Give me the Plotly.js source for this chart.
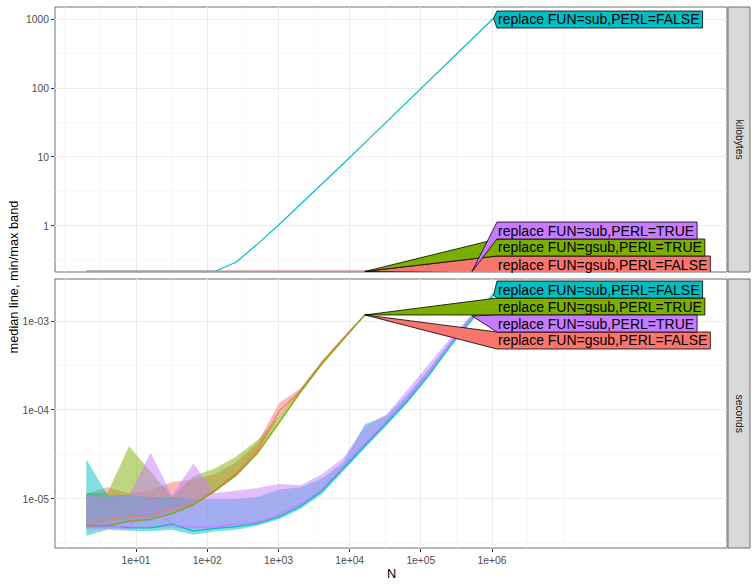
<!DOCTYPE html>
<html><head><meta charset="utf-8">
<script src="https://cdn.plot.ly/plotly-3.0.1.min.js"></script>
<style>html,body{margin:0;padding:0;background:#fff}</style>
</head><body><div id="chart" style="width:756px;height:588px"></div>
<script>
// ---------------- data ----------------
const N = [2,4,8,16,32,64,128,256,512,1024,2048,4096,8192,16384,32768,65536,131072,262144,524288,1048576];
const seriesNames = ["replace FUN=gsub,PERL=FALSE","replace FUN=gsub,PERL=TRUE","replace FUN=sub,PERL=FALSE","replace FUN=sub,PERL=TRUE"];
const seriesColors = ["#F8766D","#7CAE00","#00BFC4","#C77CFF"];
const panelNames = ["kilobytes","seconds"];
const xTickVals = [1e1,1e2,1e3,1e4,1e5,1e6];
const xTickText = ["1e+01","1e+02","1e+03","1e+04","1e+05","1e+06"];
const kbTickVals = [1,10,100,1000];
const kbTickText = ["1","10","100","1000"];
const secTickVals = [1e-5,1e-4,1e-3];
const secTickText = ["1e-05","1e-04","1e-03"];

// kilobytes (median = min = max); 0 means no memory allocated
const kbGsubFalse = [0,0,0,0,0,0,0,0,0,0,0,0,0,0];
const kbGsubTrue  = [0,0,0,0,0,0,0,0,0,0,0,0,0,0];
const kbSubFalse  = [0,0,0,0,0,0,0,0.30,0.55,1.05,2.05,4.05,8.05,16.05,32.05,64.05,128.05,256.05,512.05,1024.05];
const kbSubTrue   = [0,0,0,0,0,0,0,0,0,0,0,0,0,0,0,0,0,0,0];

// seconds
const secMedGsubFalse = [5.3e-6,5.9e-6,6.3e-6,6.55e-6,7.85e-6,8.8e-6,1.26e-5,1.95e-5,3.6e-5,9.7e-5,1.65e-4,3.4e-4,6.4e-4,1.17e-3];
const secMinGsubFalse = [5.0e-6,5.6e-6,6.0e-6,6.3e-6,7.5e-6,8.5e-6,1.2e-5,1.85e-5,3.4e-5,8.5e-5,1.6e-4,3.3e-4,6.3e-4,1.15e-3];
const secMaxGsubFalse = [1.15e-5,1.35e-5,1.15e-5,1.25e-5,1.55e-5,1.65e-5,1.9e-5,2.6e-5,4.3e-5,1.2e-4,1.75e-4,3.6e-4,6.6e-4,1.2e-3];

const secMedGsubTrue = [5.0e-6,5.0e-6,5.66e-6,5.9e-6,6.9e-6,8.6e-6,1.24e-5,1.86e-5,3.3e-5,7.3e-5,1.6e-4,3.3e-4,6.3e-4,1.17e-3];
const secMinGsubTrue = [4.8e-6,4.8e-6,5.4e-6,5.7e-6,6.6e-6,8.3e-6,1.2e-5,1.8e-5,3.2e-5,7.0e-5,1.55e-4,3.2e-4,6.2e-4,1.15e-3];
const secMaxGsubTrue = [1.17e-5,1.18e-5,3.9e-5,2.0e-5,1.05e-5,1.8e-5,2.2e-5,3.0e-5,4.6e-5,8.5e-5,1.75e-4,3.5e-4,6.6e-4,1.2e-3];

const secMedSubFalse = [5.06e-6,5.0e-6,4.76e-6,4.73e-6,5.2e-6,4.36e-6,4.68e-6,4.89e-6,5.3e-6,6.3e-6,8.3e-6,1.22e-5,2.2e-5,3.94e-5,6.9e-5,1.27e-4,2.5e-4,5.3e-4,1.05e-3,1.95e-3];
const secMinSubFalse = [3.85e-6,4.5e-6,4.4e-6,4.35e-6,4.5e-6,3.95e-6,4.3e-6,4.5e-6,5.0e-6,5.9e-6,7.7e-6,1.14e-5,2.08e-5,3.75e-5,6.6e-5,1.21e-4,2.4e-4,5.1e-4,1.0e-3,1.88e-3];
const secMaxSubFalse = [2.8e-5,1.1e-5,1.1e-5,1.05e-5,1.05e-5,1.0e-5,1.0e-5,1.0e-5,1.05e-5,1.28e-5,1.35e-5,1.7e-5,2.6e-5,6.9e-5,8.6e-5,1.5e-4,2.9e-4,5.9e-4,1.15e-3,2.1e-3];

const secMedSubTrue = [4.8e-6,4.89e-6,4.9e-6,9.5e-6,5.1e-6,4.8e-6,4.89e-6,5.2e-6,5.5e-6,6.7e-6,8.8e-6,1.29e-5,2.35e-5,4.2e-5,7.4e-5,1.36e-4,2.7e-4,5.7e-4,1.14e-3];
const secMinSubTrue = [4.5e-6,4.6e-6,4.6e-6,4.7e-6,4.8e-6,4.5e-6,4.6e-6,4.9e-6,5.2e-6,6.3e-6,8.3e-6,1.22e-5,2.25e-5,4.0e-5,7.1e-5,1.3e-4,2.6e-4,5.5e-4,1.1e-3];
const secMaxSubTrue = [1.1e-5,1.05e-5,1.1e-5,3.3e-5,1.1e-5,2.5e-5,1.16e-5,1.25e-5,1.33e-5,1.47e-5,1.43e-5,1.9e-5,2.9e-5,6.5e-5,8.9e-5,1.7e-4,3.3e-4,6.5e-4,1.2e-3];

// ---------------- layout constants ----------------
const FONT = '"Liberation Sans", Arial, sans-serif';
const L = 55, W = 672, PT = 7, PB = 548, H = PB - PT;
const XR = [-0.138, 9.30];
const YR = [[-0.667, 3.174], [-5.551, -2.528]];
const PANEL_PX = [[7, 272], [279, 548]];
const LABEL_LEFT = 497, ROW_H = 17;
const EDGE_NUDGE = 0.008; // decades: keeps -Inf (zero) values visible at the panel edge
// label row tops (px) per panel, per series index
const LABEL_ROWS = [[256, 239, 11, 222], [332, 298, 281, 315]];

const kb = [kbGsubFalse, kbGsubTrue, kbSubFalse, kbSubTrue];
const sMed = [secMedGsubFalse, secMedGsubTrue, secMedSubFalse, secMedSubTrue];
const sMin = [secMinGsubFalse, secMinGsubTrue, secMinSubFalse, secMinSubTrue];
const sMax = [secMaxGsubFalse, secMaxGsubTrue, secMaxSubFalse, secMaxSubTrue];

function hexA(h, a){const n=parseInt(h.slice(1),16);return `rgba(${n>>16&255},${n>>8&255},${n&255},${a})`;}
function squish(v, p){return v > 0 ? v : Math.pow(10, YR[p][0] + EDGE_NUDGE);}
function xData(px){return Math.pow(10, XR[0] + (px - L) / W * (XR[1] - XR[0]));}
function yData(py, p){const [a,b]=PANEL_PX[p];return Math.pow(10, YR[p][1] - (py - a) / (b - a) * (YR[p][1] - YR[p][0]));}
const ctx = document.createElement('canvas').getContext('2d');
ctx.font = '14px "Liberation Sans", Arial, sans-serif';
function textW(t){return ctx.measureText(t).width;}

const traces = [];
const axY = ['y','y2'];
// ribbons (seconds panel)
for (let s = 0; s < 4; s++) {
  const n = sMed[s].length, xs = N.slice(0, n);
  traces.push({x: xs.concat(xs.slice().reverse()), y: sMax[s].concat(sMin[s].slice().reverse()),
    xaxis:'x', yaxis:'y2', mode:'lines', fill:'toself', fillcolor: hexA(seriesColors[s], 0.5),
    line:{width:0}, hoverinfo:'skip', showlegend:false});
}
// median lines
for (let s = 0; s < 4; s++) {
  traces.push({x: N.slice(0, kb[s].length), y: kb[s].map(v => squish(v, 0)), xaxis:'x', yaxis:'y',
    mode:'lines', line:{color: seriesColors[s], width:1.2}, showlegend:false, hoverinfo:'skip'});
  traces.push({x: N.slice(0, sMed[s].length), y: sMed[s], xaxis:'x', yaxis:'y2',
    mode:'lines', line:{color: seriesColors[s], width:1.2}, showlegend:false, hoverinfo:'skip'});
}
// direct labels
const annotations = [];
const panelVals = [kb, sMed];
for (let p = 0; p < 2; p++) {
  for (let s = 0; s < 4; s++) {
    const vals = panelVals[p][s];
    const tipX = N[vals.length - 1], tipY = squish(vals[vals.length - 1], p);
    const top = LABEL_ROWS[p][s], bot = top + ROW_H;
    const right = LABEL_LEFT + 1 + textW(seriesNames[s]) + 3;
    traces.push({x:[tipX, xData(LABEL_LEFT), xData(right), xData(right), xData(LABEL_LEFT), tipX],
      y:[tipY, yData(top,p), yData(top,p), yData(bot,p), yData(bot,p), tipY],
      xaxis:'x', yaxis: axY[p], mode:'lines', fill:'toself', fillcolor: seriesColors[s],
      line:{color:'#000', width:0.8}, hoverinfo:'skip', showlegend:false});
    annotations.push({xref:'paper', yref:'paper', x:(LABEL_LEFT + 1 - L) / W, y:(PB - (top + bot) / 2) / H,
      xanchor:'left', yanchor:'middle', text: seriesNames[s], showarrow:false,
      borderpad:0, borderwidth:0, font:{family:FONT, size:14, color:'#000'}});
  }
}
// strips & titles
const shapes = [];
const yRefs = ['y domain','y2 domain'];
for (let p = 0; p < 2; p++) {
  shapes.push({type:'rect', xref:'x domain', yref:yRefs[p], x0:0, x1:1, y0:0, y1:1,
    line:{color:'#6e6e6e', width:1}, fillcolor:'rgba(0,0,0,0)', layer:'below'});
  shapes.push({type:'rect', xref:'paper', yref:yRefs[p], x0:(728 - L) / W, x1:(750 - L) / W, y0:0, y1:1,
    line:{color:'#6e6e6e', width:1}, fillcolor:'#D9D9D9', layer:'above'});
  const [a, b] = PANEL_PX[p];
  annotations.push({xref:'paper', yref:'paper', x:(739 - L) / W, y:(PB - (a + b) / 2) / H, text: panelNames[p],
    textangle:90, showarrow:false, xanchor:'center', yanchor:'middle', font:{family:FONT, size:10.3, color:'#1A1A1A'}});
}
annotations.push({xref:'paper', yref:'paper', x:(13 - L) / W, y:0.5, text:'median line, min/max band', textangle:-90,
  showarrow:false, xanchor:'center', yanchor:'middle', font:{family:FONT, size:12.8, color:'#000'}});
annotations.push({xref:'paper', yref:'paper', x:0.5, y:(PB - 573) / H, text:'N', showarrow:false,
  xanchor:'center', yanchor:'middle', font:{family:FONT, size:12.8, color:'#000'}});

const minorX = [1, Math.sqrt(10), 10**1.5, 10**2.5, 10**3.5, 10**4.5, 10**5.5, 10**6.5, 1e7];
const axisCommon = {type:'log', showline:false, zeroline:false, gridcolor:'#EBEBEB', gridwidth:1,
  ticks:'outside', ticklen:3, tickwidth:1, tickcolor:'#333333', tickmode:'array',
  tickfont:{family:FONT, size:10.3, color:'#4D4D4D'}};
const layout = {
  width:756, height:588, autosize:false, paper_bgcolor:'#fff', plot_bgcolor:'#fff', showlegend:false,
  margin:{l:L, r:756 - L - W, t:PT, b:588 - PB, pad:0},
  font:{family:FONT},
  xaxis: Object.assign({}, axisCommon, {range:XR, tickvals:xTickVals, ticktext:xTickText, anchor:'y2',
    minor:{tickvals:minorX, showgrid:true, gridcolor:'#F3F3F3', gridwidth:0.6, ticks:''}}),
  yaxis: Object.assign({}, axisCommon, {range:YR[0], tickvals:kbTickVals, ticktext:kbTickText, anchor:'x',
    domain:[(PB - 272) / H, 1],
    minor:{tickvals:[10**-0.5, 10**0.5, 10**1.5, 10**2.5], showgrid:true, gridcolor:'#F3F3F3', gridwidth:0.6, ticks:''}}),
  yaxis2: Object.assign({}, axisCommon, {range:YR[1], tickvals:secTickVals, ticktext:secTickText, anchor:'x',
    domain:[0, (PB - 279) / H],
    minor:{tickvals:[10**-5.5, 10**-4.5, 10**-3.5], showgrid:true, gridcolor:'#F3F3F3', gridwidth:0.6, ticks:''}}),
  shapes: shapes, annotations: annotations
};
Plotly.newPlot('chart', traces, layout, {staticPlot:true, displayModeBar:false});
</script></body></html>
